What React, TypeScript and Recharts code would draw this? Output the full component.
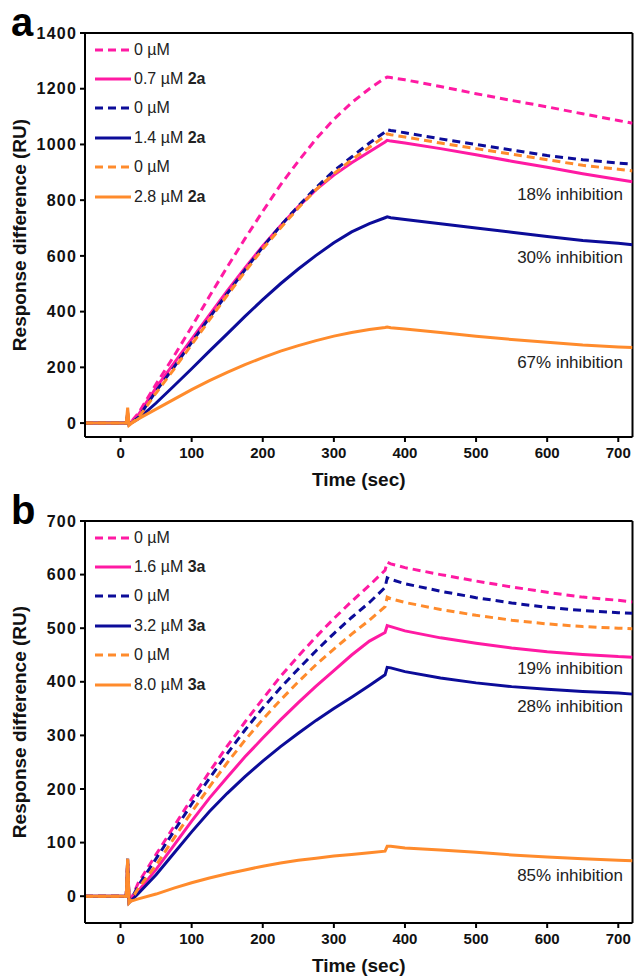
import React from "react";
import { Label, Legend, Line, LineChart, ReferenceLine, XAxis, YAxis } from "recharts";

// sampling times (sec), shared by every trace
const time = [-50, 8, 10, 12, 15, 25, 50, 75, 100, 125, 150, 175, 200, 225, 250, 275, 300, 325, 350, 372, 375, 380, 400, 450, 500, 550, 600, 650, 700, 720];

// panel a — compound 2a
const ctrlA1 = [0, 0, 8, -3, 5, 35, 140, 240, 345, 455, 560, 662, 760, 855, 940, 1020, 1090, 1150, 1200, 1238, 1242, 1240, 1232, 1208, 1182, 1158, 1135, 1110, 1086, 1076];
const drugA1 = [0, 0, 10, -3, 3, 30, 127, 214, 301, 388, 474, 557, 636, 708, 777, 838, 890, 934, 974, 1009, 1015, 1012, 1005, 985, 963, 940, 918, 895, 874, 866];
const ctrlA2 = [0, 0, 30, -5, 0, 20, 115, 200, 290, 378, 465, 550, 632, 708, 779, 845, 905, 955, 1005, 1045, 1053, 1050, 1042, 1020, 1000, 980, 960, 945, 933, 929];
const drugA2 = [0, 0, 35, -5, 0, 15, 72, 133, 195, 258, 320, 383, 443, 500, 553, 602, 647, 686, 716, 737, 740, 737, 731, 715, 700, 685, 670, 655, 645, 640];
const ctrlA3 = [0, 0, 40, -5, 0, 18, 108, 193, 282, 370, 458, 543, 625, 700, 772, 838, 895, 945, 990, 1030, 1038, 1035, 1027, 1005, 985, 965, 945, 925, 911, 905];
const drugA3 = [0, 0, 55, -8, -2, 15, 50, 85, 120, 152, 182, 210, 235, 258, 278, 296, 312, 325, 336, 343, 345, 342, 338, 325, 312, 300, 290, 280, 273, 271];

// panel b — compound 3a
const ctrlB1 = [0, 0, 65, -10, -5, 25, 78, 130, 182, 232, 280, 325, 368, 410, 448, 484, 518, 550, 580, 608, 623, 620, 613, 600, 588, 577, 567, 558, 552, 549];
const drugB1 = [0, 0, 60, -10, -7, 10, 50, 95, 140, 183, 222, 260, 295, 329, 361, 392, 421, 450, 476, 492, 505, 503, 495, 482, 472, 463, 456, 451, 447, 446];
const ctrlB2 = [0, 0, 70, -10, -6, 20, 70, 121, 172, 220, 266, 310, 351, 389, 424, 458, 490, 520, 548, 576, 594, 591, 583, 569, 557, 547, 539, 533, 529, 528];
const drugB2 = [0, 0, 60, -12, -8, 5, 40, 80, 120, 158, 192, 223, 252, 279, 304, 328, 350, 371, 393, 413, 427, 426, 419, 407, 398, 391, 386, 382, 379, 377];
const ctrlB3 = [0, 0, 68, -12, -7, 15, 58, 108, 157, 204, 249, 291, 330, 366, 400, 432, 461, 489, 515, 540, 558, 555, 548, 535, 524, 515, 508, 503, 500, 499];
const drugB3 = [0, 0, 70, -12, -9, -5, 4, 15, 25, 34, 42, 49, 56, 62, 67, 71, 75, 78, 81, 84, 93, 93, 90, 86, 82, 77, 73, 70, 67, 66];

const concA = ["0 µM", "0.7 µM", "0 µM", "1.4 µM", "0 µM", "2.8 µM"];
const concB = ["0 µM", "1.6 µM", "0 µM", "3.2 µM", "0 µM", "8.0 µM"];
const inhibitionA = ["18% inhibition", "30% inhibition", "67% inhibition"];
const inhibitionB = ["19% inhibition", "28% inhibition", "85% inhibition"];
const xTicks = [0, 100, 200, 300, 400, 500, 600, 700];
const yTicksA = [0, 200, 400, 600, 800, 1000, 1200, 1400];
const yTicksB = [0, 100, 200, 300, 400, 500, 600, 700];

const FONT = "'Liberation Sans', Arial, sans-serif";
const PINK = "#ff1aa3";
const NAVY = "#0c0c99";
const ORANGE = "#ff8b2c";

const SERIES = [
  { key: "c1", color: PINK, dash: "8 5" },
  { key: "d1", color: PINK, dash: undefined },
  { key: "c2", color: NAVY, dash: "8 5" },
  { key: "d2", color: NAVY, dash: undefined },
  { key: "c3", color: ORANGE, dash: "8 5" },
  { key: "d3", color: ORANGE, dash: undefined },
];

function buildRows(cols: number[][]) {
  return time.map((t, i) => ({
    t,
    c1: cols[0][i],
    d1: cols[1][i],
    c2: cols[2][i],
    d2: cols[3][i],
    c3: cols[4][i],
    d3: cols[5][i],
  }));
}

interface PanelProps {
  letter: string;
  top: number;
  height: number;
  rows: ReturnType<typeof buildRows>;
  yMax: number;
  yTicks: number[];
  conc: string[];
  compound: string;
  notes: string[];
  noteY: number[];
  xAxisHeight: number;
  labelOffset: number;
}

function Panel(props: PanelProps) {
  const { letter, top, height, rows, yMax, yTicks, conc, compound, notes, noteY, xAxisHeight, labelOffset } = props;

  const legend = () => (
    <div style={{ fontFamily: FONT, fontSize: 16, color: "#222" }}>
      {SERIES.map((s, i) => (
        <div key={s.key} style={{ display: "flex", alignItems: "center", height: 29.4 }}>
          <svg width={36} height={6}>
            <line x1={0} y1={3} x2={36} y2={3} stroke={s.color} strokeWidth={3} strokeDasharray={s.dash} />
          </svg>
          <span style={{ marginLeft: 3 }}>
            {conc[i]}
            {s.dash ? null : <b> {compound}</b>}
          </span>
        </div>
      ))}
    </div>
  );

  return (
    <div style={{ position: "absolute", top, left: 0, width: 634, height }}>
      <LineChart width={634} height={height} data={rows} margin={{ top: 33, right: 1.5, left: 0, bottom: 0 }}>
        <XAxis
          dataKey="t"
          type="number"
          domain={[-50, 720]}
          ticks={xTicks}
          allowDataOverflow
          height={xAxisHeight}
          stroke="#000"
          strokeWidth={2}
          tickSize={5}
          tickMargin={5}
          tick={{ fill: "#111", fontSize: 15, fontWeight: 700, fontFamily: FONT }}
        >
          <Label
            value="Time (sec)"
            position="insideBottom"
            offset={labelOffset}
            style={{ fill: "#111", fontSize: 19, fontWeight: 700, fontFamily: FONT }}
          />
        </XAxis>
        <YAxis
          type="number"
          domain={[-50, yMax]}
          ticks={yTicks}
          allowDataOverflow
          width={85}
          stroke="#000"
          strokeWidth={2}
          tickSize={5}
          tickMargin={3}
          tick={{ fill: "#111", fontSize: 16, fontWeight: 700, fontFamily: FONT, letterSpacing: 1.2 }}
        >
          <Label
            value="Response difference (RU)"
            angle={-90}
            position="insideLeft"
            offset={19}
            style={{ fill: "#111", fontSize: 19, fontWeight: 700, fontFamily: FONT, textAnchor: "middle" }}
          />
        </YAxis>
        <ReferenceLine y={yMax} stroke="#000" strokeWidth={2} />
        <ReferenceLine x={720} stroke="#000" strokeWidth={2} />
        <Legend
          layout="vertical"
          align="center"
          verticalAlign="middle"
          content={legend}
          wrapperStyle={{ top: 35, left: 95, width: 200, height: 180 }}
        />
        {SERIES.map((s) => (
          <Line
            key={s.key}
            type="linear"
            dataKey={s.key}
            stroke={s.color}
            strokeWidth={3}
            strokeDasharray={s.dash}
            dot={false}
            activeDot={false}
            isAnimationActive={false}
          />
        ))}
      </LineChart>
      <div
        style={{
          position: "absolute",
          left: 11,
          top: 0,
          fontFamily: FONT,
          fontWeight: 700,
          fontSize: 40,
          lineHeight: "normal",
          color: "#000",
        }}
      >
        {letter}
      </div>
      {notes.map((n, i) => (
        <div
          key={n}
          style={{
            position: "absolute",
            left: 380,
            width: 243,
            top: noteY[i] - 10,
            textAlign: "right",
            fontFamily: FONT,
            fontSize: 17,
            lineHeight: "20px",
            color: "#222",
          }}
        >
          {n}
        </div>
      ))}
    </div>
  );
}

export default function App() {
  const rowsA = buildRows([ctrlA1, drugA1, ctrlA2, drugA2, ctrlA3, drugA3]);
  const rowsB = buildRows([ctrlB1, drugB1, ctrlB2, drugB2, ctrlB3, drugB3]);
  return (
    <div style={{ position: "absolute", top: 0, left: 0, width: 634, height: 977, background: "#fff" }}>
      <Panel
        letter="a"
        top={0}
        height={495}
        rows={rowsA}
        yMax={1400}
        yTicks={yTicksA}
        conc={concA}
        compound="2a"
        notes={inhibitionA}
        noteY={[195, 258, 363]}
        xAxisHeight={58}
        labelOffset={9}
      />
      <Panel
        letter="b"
        top={488}
        height={489}
        rows={rowsB}
        yMax={700}
        yTicks={yTicksB}
        conc={concB}
        compound="3a"
        notes={inhibitionB}
        noteY={[181, 219, 388]}
        xAxisHeight={54}
        labelOffset={5}
      />
    </div>
  );
}
